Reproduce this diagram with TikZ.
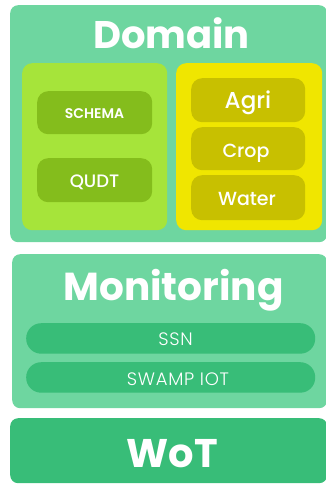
\documentclass[tikz,border=0pt]{standalone}
\usepackage{fontspec}
\setmainfont{Poppins}
\newfontfamily\semifont{Poppins SemiBold}
\newfontfamily\medfont{Poppins Medium}
\newfontfamily\lightfont{Poppins Light}[LetterSpace=4]
\definecolor{mint}{HTML}{6ED6A0}
\definecolor{leaf}{HTML}{A6E43A}
\definecolor{leafdark}{HTML}{84BD1C}
\definecolor{lemon}{HTML}{F0E600}
\definecolor{olive}{HTML}{C8C000}
\definecolor{jade}{HTML}{38BD78}
\tikzset{
  panel/.style={fill=#1, draw=none, rounded corners=8pt, anchor=north west, inner sep=0pt},
  tile/.style={fill=#1, draw=none, rounded corners=11pt, anchor=north west, inner sep=0pt},
  pill/.style={fill=jade, draw=none, rounded corners=15pt, anchor=north west, inner sep=0pt,
    minimum width=289pt, minimum height=30.5pt},
  lbl/.style={text=white, anchor=base, inner sep=0pt},
}
\begin{document}
\begin{tikzpicture}[x=1pt, y=-1pt]
\useasboundingbox (0,0) rectangle (326,485);
% outer layers
\node[panel=mint, minimum width=317pt, minimum height=237pt] (domain) at (10,5) {};
\node[panel=mint, minimum width=315pt, minimum height=154pt] (monitor) at (12,254) {};
\node[panel=jade, minimum width=317pt, minimum height=65pt] (wot) at (10,418) {};
% domain groups
\node[tile=leaf, rounded corners=10pt, minimum width=145pt, minimum height=167pt] (general) at (22,63) {};
\node[tile=lemon, rounded corners=10pt, minimum width=146pt, minimum height=167pt] (agro) at (176,63) {};
% vocabularies
\node[tile=leafdark, minimum width=115pt, minimum height=43pt] (schema) at (37,91) {};
\node[tile=leafdark, minimum width=115pt, minimum height=44pt] (qudt) at (37,158) {};
\node[tile=olive, minimum width=114pt, minimum height=44pt] (agri) at (191,78) {};
\node[tile=olive, minimum width=114pt, minimum height=43pt] (crop) at (191,127) {};
\node[tile=olive, minimum width=114pt, minimum height=45pt] (water) at (191,175) {};
\node[pill] (ssn) at (26,323) {};
\node[pill] (swamp) at (26,362) {};
% labels
\node[lbl, font=\bfseries\fontsize{38.5}{38.5}\selectfont] (tdomain) at (171.5,48) {Domain};
\node[lbl, font=\bfseries\fontsize{39}{39}\selectfont] (tmonitor) at (173.5,300) {Monitoring};
\node[lbl, font=\bfseries\fontsize{40}{40}\selectfont] (twot) at (172.5,467) {WoT};
\node[lbl, font=\semifont\fontsize{14}{14}\selectfont] (tschema) at (94.5,118) {SCHEMA};
\node[lbl, font=\medfont\fontsize{18}{18}\selectfont] (tqudt) at (94.5,187) {QUDT};
\node[lbl, font=\medfont\fontsize{23}{23}\selectfont] (tagri) at (248,108) {Agri};
\node[lbl, font=\medfont\fontsize{19}{19}\selectfont] (tcrop) at (246,157) {Crop};
\node[lbl, font=\medfont\fontsize{19}{19}\selectfont] (twater) at (247,205) {Water};
\node[lbl, font=\lightfont\fontsize{18}{18}\selectfont] (tssn) at (175.5,345) {SSN};
\node[lbl, font=\lightfont\fontsize{18}{18}\selectfont] (tswamp) at (178,385) {SWAMP IOT};
\end{tikzpicture}
\end{document}
